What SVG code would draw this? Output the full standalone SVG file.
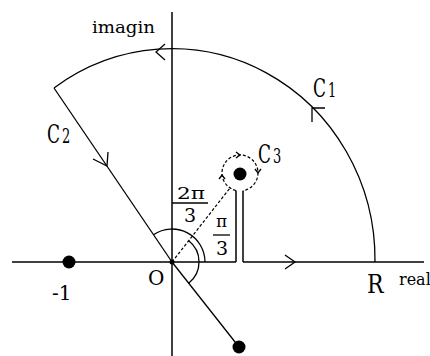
<svg xmlns="http://www.w3.org/2000/svg" width="430" height="356" viewBox="0 0 430 356">
<style>
.ln{fill:none;stroke:#000;stroke-width:1.3}
.ax{fill:none;stroke:#000;stroke-width:1.5}
.ds{fill:none;stroke:#000;stroke-width:1.2;stroke-dasharray:3 2}
.ah{fill:none;stroke:#000;stroke-width:1.3;stroke-linejoin:miter}
text{font-family:'DejaVu Serif','Liberation Serif',serif;fill:#000}
.dot{fill:#000}
</style>
<rect width="430" height="356" fill="#fff"/>
<g id="connectors">
  <line class="ax" x1="172" y1="12" x2="172" y2="356"/>
  <line class="ax" x1="12" y1="262" x2="236" y2="262"/>
  <line class="ax" x1="243" y1="262" x2="424" y2="262"/>
  <line class="ax" x1="236" y1="190.5" x2="236" y2="262"/>
  <line class="ax" x1="243" y1="190.7" x2="243" y2="262"/>
  <path class="ln" d="M375 262 A203 211 0 0 0 54 88"/>
  <line class="ln" x1="54" y1="88" x2="172" y2="262"/>
  <line class="ln" x1="172" y1="262" x2="239" y2="347"/>
  <line class="ds" x1="172" y1="262" x2="230" y2="188"/>
  <path class="ds" d="M236 190.5 A18 18 0 1 1 243 190.7"/>
  <path class="ln" d="M153.5 234.7 A33 33 0 0 1 205 262"/>
  <path class="ln" d="M188.4 240.5 A27 27 0 0 1 188.7 283.2"/>
  <line class="ln" x1="172" y1="203" x2="208" y2="203"/>
  <line class="ln" x1="213" y1="235" x2="230" y2="235"/>
  <polyline class="ah" points="165,44 156,52 165,60"/>
  <polyline class="ah" points="325,108 312,108 312,122"/>
  <polyline class="ah" points="108,152 107,166 93,159"/>
  <polyline class="ah" points="285,255 295,262 285,269"/>
  <polyline class="ah" points="236,152 240,155 236,158"/>
  <polyline class="ah" points="255,169 258,173 261,169"/>
  <polyline class="ah" points="219,179 222,175 225,179"/>
</g>
<g id="axis-imag"><text x="92" y="33" font-size="16" textLength="63" lengthAdjust="spacingAndGlyphs">imagin</text></g>
<g id="axis-real"><text x="399" y="285" font-size="16">real</text></g>
<g id="origin"><circle class="dot" cx="172" cy="262" r="2.5"/><text x="148" y="285" font-size="20">O</text></g>
<g id="minus-one"><circle class="dot" cx="69" cy="262" r="6.5"/><text x="52" y="300" font-size="20">-1</text></g>
<g id="R"><text font-size="22" transform="translate(367 293) scale(1 1.2)">R</text></g>
<g id="pole-lower"><circle class="dot" cx="239" cy="347" r="6.5"/></g>
<g id="pole-upper"><circle class="dot" cx="240" cy="174" r="6.5"/></g>
<g id="C1"><text font-size="17" transform="translate(313 97) scale(1 1.5)">C<tspan dx="2" font-size="13">1</tspan></text></g>
<g id="C2"><text font-size="17" transform="translate(47 143) scale(1 1.5)">C<tspan dx="2" font-size="13">2</tspan></text></g>
<g id="C3"><text font-size="17" transform="translate(258 163) scale(1 1.5)">C<tspan dx="2" font-size="13">3</tspan></text></g>
<g id="angle-2pi3">
  <text x="177" y="199" font-size="16" textLength="28" lengthAdjust="spacingAndGlyphs">2π</text>
  <text x="190" y="222" font-size="19" text-anchor="middle">3</text>
</g>
<g id="angle-pi3">
  <text x="221.5" y="227" font-size="17" text-anchor="middle">π</text>
  <text x="222" y="255" font-size="19" text-anchor="middle">3</text>
</g>
</svg>
